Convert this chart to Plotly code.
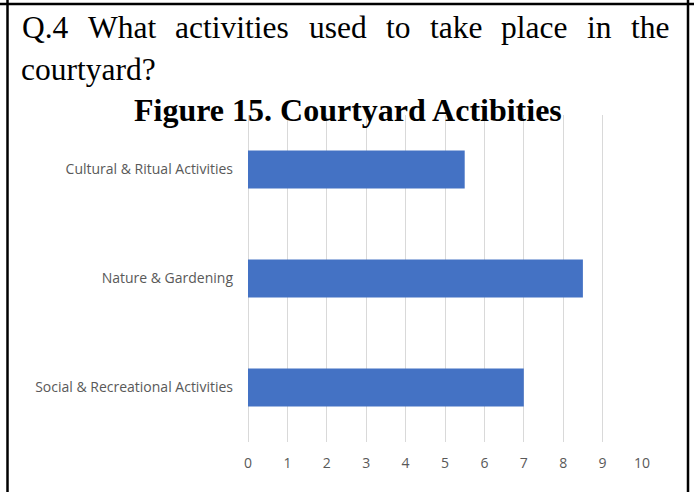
import plotly.graph_objects as go

# ---- data ----
categories = ["Social & Recreational Activities", "Nature & Gardening", "Cultural & Ritual Activities"]
values = [7, 8.5, 5.5]
x_ticks = [0, 1, 2, 3, 4, 5, 6, 7, 8, 9, 10]

question_line1 = ["Q.4", "What", "activities", "used", "to", "take", "place", "in", "the"]
question_line2 = "courtyard?"
title_text = "Figure 15. Courtyard Actibities"

W, H = 694, 492
def px(x):
    return x / W
def py(y):
    return 1 - y / H

fig = go.Figure()
fig.add_trace(go.Bar(
    y=categories, x=values, orientation="h",
    marker=dict(color="#4472C4", line=dict(width=0)),
    width=0.35, showlegend=False, hoverinfo="x+y",
))

serif = "Liberation Serif, Times New Roman, serif"
sans = "Open Sans, Carlito, Calibri, sans-serif"

annotations = []
# justified first line: left edges of words in pixels (equal word gaps)
word_left = [20, 85.8, 173.4, 306.5, 383.6, 427.5, 499.4, 585.3, 629.2]
for w, xl in zip(question_line1, word_left):
    annotations.append(dict(text=w, x=px(xl), y=py(27), xref="paper", yref="paper",
                            xanchor="left", yanchor="middle", showarrow=False,
                            font=dict(family=serif, size=31.5, color="#000000")))
annotations.append(dict(text=question_line2, x=px(19), y=py(69), xref="paper", yref="paper",
                        xanchor="left", yanchor="middle", showarrow=False,
                        font=dict(family=serif, size=31.5, color="#000000")))
annotations.append(dict(text="<b>" + title_text + "</b>", x=px(348), y=py(110), xref="paper", yref="paper",
                        xanchor="center", yanchor="middle", showarrow=False,
                        font=dict(family=serif, size=32, color="#000000")))

shapes = [
    dict(type="line", xref="paper", yref="paper", x0=0, x1=1, y0=py(4), y1=py(4),
         line=dict(color="#000000", width=2.5)),
    dict(type="line", xref="paper", yref="paper", x0=px(7.5), x1=px(7.5), y0=0, y1=1,
         line=dict(color="#000000", width=2.5)),
    dict(type="line", xref="paper", yref="paper", x0=px(688), x1=px(688), y0=0, y1=1,
         line=dict(color="#000000", width=2.5)),
]

fig.update_layout(
    width=W, height=H, autosize=False,
    margin=dict(l=0, r=0, t=0, b=0, pad=0),
    paper_bgcolor="white", plot_bgcolor="white",
    annotations=annotations, shapes=shapes,
    xaxis=dict(domain=[px(248), px(642)], range=[0, 10], tickvals=x_ticks,
               showgrid=True, gridcolor="#D9D9D9", gridwidth=1,
               zeroline=True, zerolinecolor="#D9D9D9", zerolinewidth=1,
               showline=False, ticks="", ticklabelstandoff=11, automargin=False,
               tickfont=dict(family=sans, size=14, color="#595959"), fixedrange=True),
    yaxis=dict(domain=[py(442), py(115)], range=[-0.5, 2.5], categoryorder="array",
               categoryarray=categories, showgrid=False, zeroline=False, showline=False,
               ticks="", ticklabelstandoff=14, automargin=False,
               tickfont=dict(family=sans, size=14, color="#595959"), fixedrange=True),
)

fig.write_html("out.html", config={"displayModeBar": False, "responsive": False},
               post_script="document.body.style.margin='0';document.body.style.overflow='hidden';")
